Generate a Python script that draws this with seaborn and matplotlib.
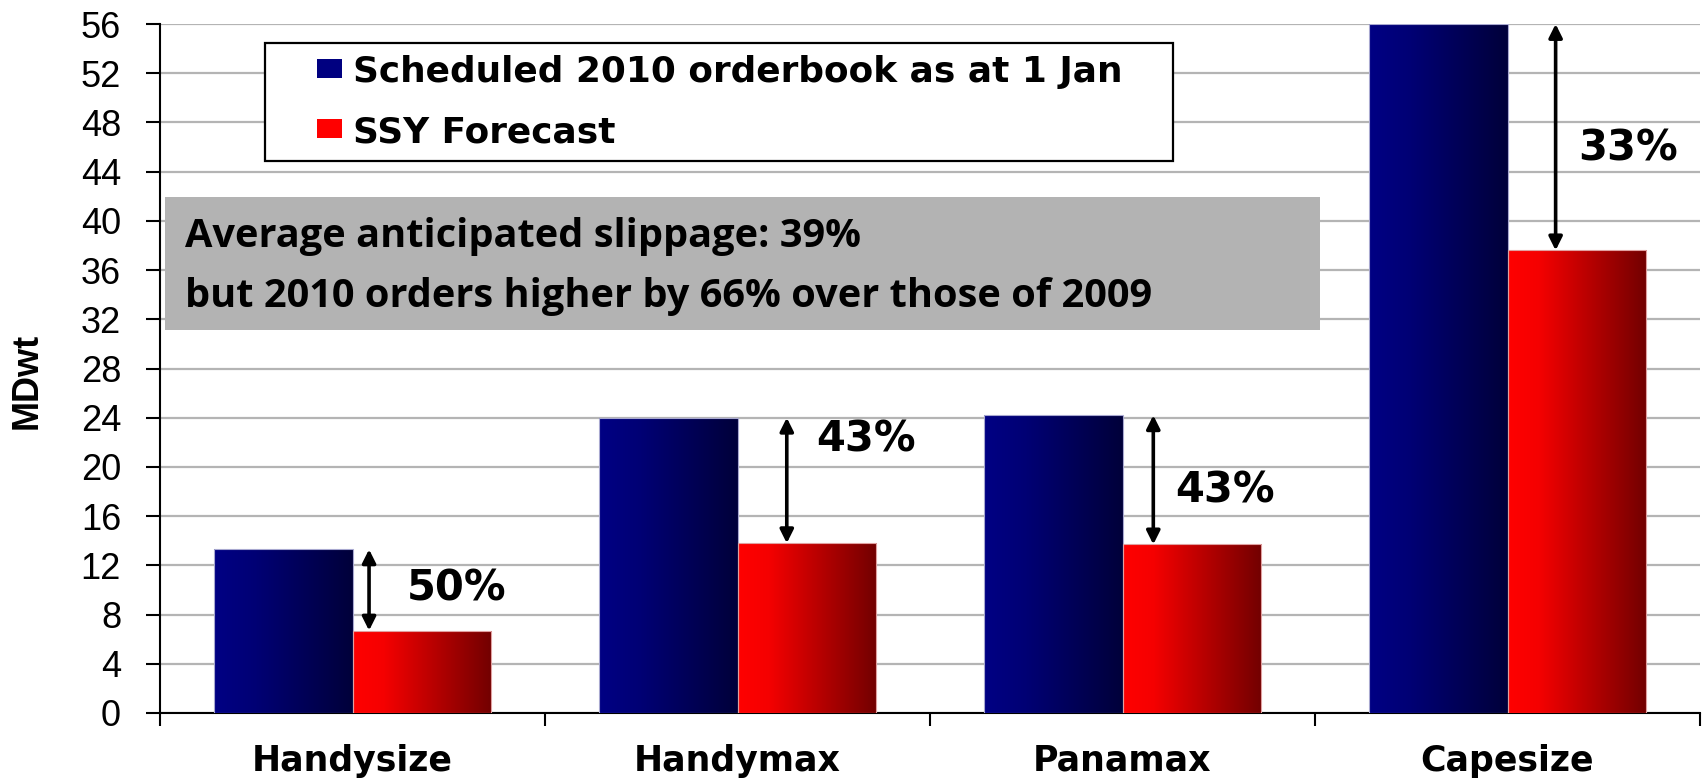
import numpy as np
import pandas as pd
import matplotlib
matplotlib.use("Agg")
import matplotlib.pyplot as plt
import seaborn as sns
from matplotlib.colors import LinearSegmentedColormap
from matplotlib.patches import Rectangle, Patch
from matplotlib.legend_handler import HandlerPatch

# --- data (million dwt) ---
categories = ["Handysize", "Handymax", "Panamax", "Capesize"]
scheduled = [13.3, 24.0, 24.2, 56.0]
forecast = [6.7, 13.8, 13.7, 37.6]
slippage_labels = ["50%", "43%", "43%", "33%"]
series_names = ["Scheduled 2010 orderbook as at 1 Jan", "SSY Forecast"]
y_ticks = list(range(0, 57, 4))
note_lines = ["Average anticipated slippage: 39%",
              "but 2010 orders higher by 66% over those of 2009"]

df = pd.DataFrame({
    "category": categories * 2,
    "value": scheduled + forecast,
    "series": [series_names[0]] * 4 + [series_names[1]] * 4,
})

sns.set_theme(style="white")
plt.rcParams["font.family"] = ["DejaVu Sans"]
plt.rcParams.update({"text.color": "black", "xtick.color": "black",
                     "ytick.color": "black", "axes.labelcolor": "black"})

W, H = 1707, 778
fig = plt.figure(figsize=(W / 100, H / 100), dpi=100)
ax = fig.add_axes([160 / W, 1 - 713 / H, 1540 / W, 689 / H])

palette = {series_names[0]: "#000080", series_names[1]: "#ff0000"}
sns.barplot(data=df, x="category", y="value", hue="series", order=categories,
            hue_order=series_names, palette=palette, width=0.72, gap=0,
            dodge=True, legend=False, ax=ax, saturation=1, zorder=3)

# horizontal colour gradients inside each bar
blue_cmap = LinearSegmentedColormap.from_list(
    "navy_grad", [(0, "#000084"), (0.3, "#000074"), (1, "#00003a")])
red_cmap = LinearSegmentedColormap.from_list(
    "red_grad", [(0, "#ff0000"), (0.22, "#f50000"), (1, "#720000")])
grad = np.linspace(0, 1, 256).reshape(1, -1)
n = len(categories)
for i, patch in enumerate(ax.patches[:2 * n]):
    cmap = blue_cmap if i < n else red_cmap
    x0, y0 = patch.get_x(), patch.get_y()
    w, h = patch.get_width(), patch.get_height()
    im = ax.imshow(grad, extent=[x0, x0 + w, y0, y0 + h], cmap=cmap,
                   aspect="auto", origin="lower", zorder=3.5,
                   interpolation="bilinear")
    im.set_clip_path(patch)
    patch.set_edgecolor("#a8a8d0" if i < n else "#e0a0a0")
    patch.set_linewidth(0.8)
    patch.set_zorder(3.6)
    patch.set_facecolor("none")

ax.set_xlim(-0.5, n - 0.5)
ax.set_ylim(0, 56)
ax.set_yticks(y_ticks)
ax.set_yticklabels([str(t) for t in y_ticks],
                   family=["Liberation Sans", "DejaVu Sans"])

# gridlines and spines
ax.yaxis.grid(True, color="#b4b4b4", linewidth=1.6, zorder=0)
ax.xaxis.grid(False)
ax.set_axisbelow(True)
for side in ["top", "right"]:
    ax.spines[side].set_visible(False)
for side in ["left", "bottom"]:
    ax.spines[side].set_color("black")
    ax.spines[side].set_linewidth(1.5)

# category boundary ticks on the x axis
ax.set_xticks(np.arange(-0.5, n, 1.0), minor=True)
ax.tick_params(axis="x", which="minor", length=9, width=1.5, color="black",
               direction="out", bottom=True)
ax.tick_params(axis="x", which="major", length=0, pad=22, labelsize=25)
ax.tick_params(axis="y", which="major", length=10, width=1.5, color="black",
               direction="out", left=True, pad=18, labelsize=26)
for lab in ax.get_xticklabels():
    lab.set_fontweight("bold")
ax.set_xlabel("")
ax.set_ylabel("")

# double-headed arrows with slippage percentages
arrow_dx = [0.043, 0.128, 0.080, 0.125]
label_pos = [(0.142, 10.1), (1.205, 22.2), (2.138, 18.05), (3.183, 45.9)]
for i in range(n):
    xa = i + arrow_dx[i]
    ax.annotate("", xy=(xa, forecast[i]), xytext=(xa, scheduled[i]),
                arrowprops=dict(arrowstyle="<|-|>", color="black", lw=2.6,
                                mutation_scale=20, shrinkA=0, shrinkB=0),
                zorder=6, annotation_clip=False)
    lx, ly = label_pos[i]
    ax.text(lx, ly, slippage_labels[i], ha="left", va="center",
            fontsize=30, fontweight="bold", color="black", zorder=6)


# legend with small square keys placed at the right of the key area
def square_key(legend, orig_handle, xdescent, ydescent, width, height, fontsize):
    sw, sh = 0.70 * fontsize, 0.52 * fontsize
    return Rectangle((width - sw - xdescent, -ydescent + (height - sh) / 2 + 1),
                     sw, sh)


handles = [Patch(facecolor=palette[s], edgecolor="none") for s in series_names]
leg = ax.legend(handles, series_names, loc="upper left",
                bbox_to_anchor=(265 / W, 1 - 44 / H, 908 / W, 0.001),
                bbox_transform=fig.transFigure, mode="expand",
                frameon=True, fancybox=False, framealpha=1, edgecolor="black",
                borderpad=0.34, labelspacing=0.72, handlelength=1.80,
                handleheight=0.7, handletextpad=0.31, borderaxespad=0,
                prop={"family": "DejaVu Sans", "weight": "bold", "size": 25.8},
                handler_map={Patch: HandlerPatch(patch_func=square_key)})
leg.get_frame().set_linewidth(1.6)
leg.set_zorder(7)
for t in leg.get_texts():
    t.set_color("black")

# grey annotation panel
fig.patches.append(Rectangle((165 / W, 1 - 330 / H), 1155 / W, 133 / H,
                             transform=fig.transFigure, facecolor="#b3b3b3",
                             edgecolor="none", zorder=2))
for line, yc in zip(note_lines, [237, 296]):
    fig.text(185 / W, 1 - yc / H, line, ha="left", va="center",
             family=["Open Sans", "DejaVu Sans"], fontweight="bold",
             fontsize=28.6, color="black", zorder=3)

# y axis title
fig.text(27 / W, 1 - 381 / H, "MDwt", rotation=90, ha="center", va="center",
         family=["Liberation Sans Narrow", "Liberation Sans", "DejaVu Sans"],
         fontweight="bold", fontsize=26, color="black")

fig.savefig("out.png", dpi=100)
